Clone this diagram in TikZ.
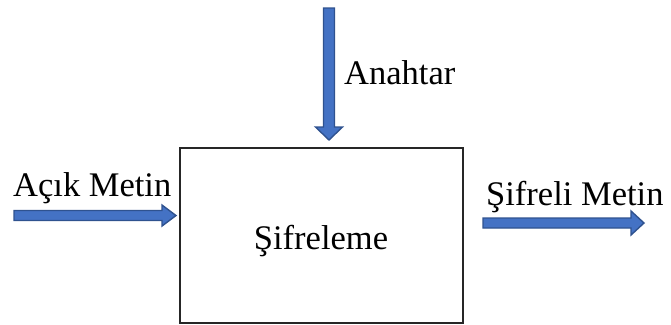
\documentclass[tikz,border=0pt]{standalone}
\usepackage{fontspec}
\setmainfont{Liberation Serif}
\definecolor{arrowfill}{HTML}{4472C4}
\definecolor{arrowline}{HTML}{2F528F}
\tikzset{
  blockarrow/.style={fill=arrowfill, draw=arrowline, line width=1.4pt, line join=miter},
  label/.style={inner sep=0pt, font=\fontsize{34.5}{40}\selectfont},
  stagebox/.style={draw=black!85, line width=1.3pt}
}
\begin{document}
\begin{tikzpicture}[x=1pt,y=-1pt]
  \useasboundingbox (0,0) rectangle (671,324);
  % encryption block
  \draw[stagebox] (180,148) rectangle (463,323);
  \node[label, anchor=base] (enc) at (321,249) {Şifreleme};
  % key input from above
  \coordinate (keytip) at (329,140);
  \draw[blockarrow] (323.5,8) -- (334.5,8) -- (334.5,127) -- (342.5,127)
    -- (keytip) -- (315.5,127) -- (323.5,127) -- cycle;
  \node[label, anchor=base west] (key) at (344,84) {Anahtar};
  % plaintext input from the left
  \coordinate (intip) at (176,215.5);
  \draw[blockarrow] (14,210.5) -- (162,210.5) -- (162,205) -- (intip)
    -- (162,226) -- (162,220.5) -- (14,220.5) -- cycle;
  \node[label, anchor=base west] (plain) at (13,196) {Açık Metin};
  % ciphertext output to the right
  \coordinate (outtip) at (644,223);
  \draw[blockarrow] (483,218) -- (631,218) -- (631,211) -- (outtip)
    -- (631,235) -- (631,228) -- (483,228) -- cycle;
  \node[label, anchor=base west] (cipher) at (486,205) {Şifreli Metin};
\end{tikzpicture}
\end{document}
